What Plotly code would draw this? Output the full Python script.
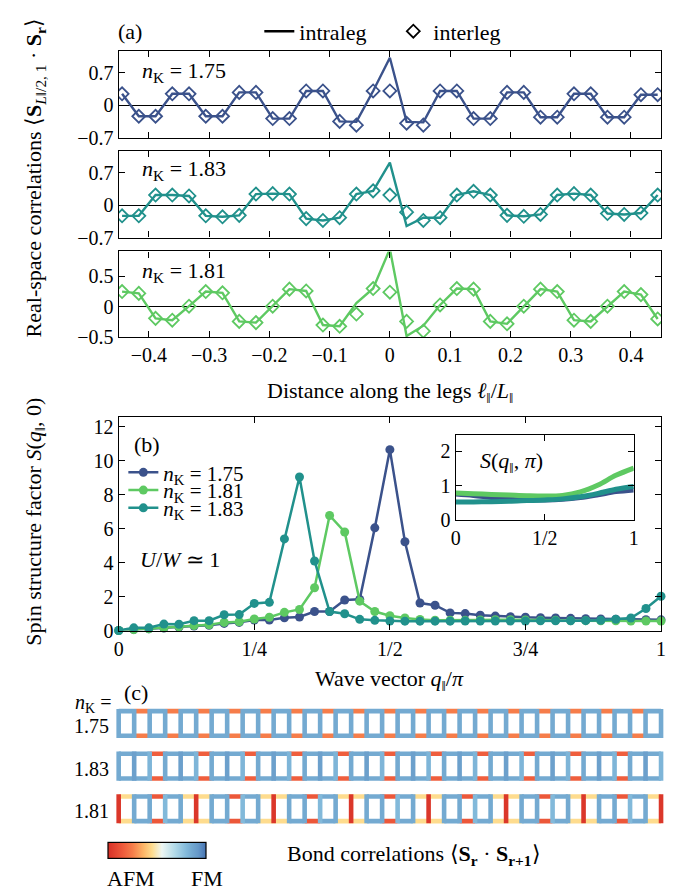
import plotly.graph_objects as go
from plotly.colors import sample_colorscale

W, H = 679, 892
SERIF = "Liberation Serif, Times New Roman, Times, serif"
TICK_FONT = dict(family=SERIF, size=20, color="black")


def fx(px):
    return px / W


def fy(py):
    return 1 - py / H


# ---------------- data: panel (a) real-space correlations ----------------
L_PAR = 36
site_offset = list(range(-16, 17))
dist_ticks = [-0.4, -0.3, -0.2, -0.1, 0, 0.1, 0.2, 0.3, 0.4]
dist_ticktext = ["\u22120.4", "\u22120.3", "\u22120.2", "\u22120.1", "0", "0.1", "0.2", "0.3", "0.4"]

intra_175 = [0.25, -0.23, -0.23, 0.25, 0.25, -0.23, -0.23, 0.28, 0.28, -0.28, -0.28, 0.31, 0.31,
             -0.34, -0.35, 0.31, 1.02, -0.35, -0.36, 0.31, 0.31, -0.28, -0.28, 0.28, 0.28, -0.25,
             -0.25, 0.25, 0.25, -0.25, -0.25, 0.23, 0.23]
inter_175 = [0.25, -0.23, -0.23, 0.25, 0.25, -0.23, -0.23, 0.28, 0.28, -0.28, -0.28, 0.31, 0.31,
             -0.34, -0.42, 0.31, 0.31, -0.38, -0.42, 0.31, 0.31, -0.28, -0.28, 0.28, 0.28, -0.25,
             -0.25, 0.25, 0.25, -0.25, -0.25, 0.23, 0.23]

intra_183 = [-0.23, -0.23, 0.22, 0.22, 0.20, -0.23, -0.25, -0.22, 0.24, 0.25, 0.24, -0.29, -0.33,
             -0.27, 0.24, 0.31, 0.92, -0.45, -0.27, -0.27, 0.22, 0.30, 0.22, -0.22, -0.24, -0.20,
             0.22, 0.25, 0.22, -0.18, -0.20, -0.17, 0.22]
inter_183 = [-0.23, -0.23, 0.22, 0.22, 0.20, -0.23, -0.25, -0.22, 0.24, 0.25, 0.24, -0.29, -0.33,
             -0.27, 0.24, 0.31, 0.22, -0.15, -0.33, -0.27, 0.22, 0.30, 0.22, -0.22, -0.24, -0.20,
             0.22, 0.25, 0.22, -0.18, -0.20, -0.17, 0.22]

intra_181 = [0.25, 0.22, -0.19, -0.22, 0.01, 0.25, 0.23, -0.24, -0.26, 0.01, 0.29, 0.26, -0.30,
             -0.32, 0.06, 0.30, 0.95, -0.48, -0.31, 0.03, 0.30, 0.29, -0.24, -0.28, 0.01, 0.29,
             0.25, -0.22, -0.24, 0.01, 0.25, 0.20, -0.20]
inter_181 = [0.25, 0.22, -0.19, -0.22, 0.01, 0.25, 0.23, -0.24, -0.26, 0.01, 0.29, 0.26, -0.30,
             -0.32, -0.12, 0.30, 0.24, -0.24, -0.40, 0.03, 0.30, 0.29, -0.24, -0.28, 0.01, 0.29,
             0.25, -0.22, -0.24, 0.01, 0.25, 0.20, -0.20]

# ---------------- data: panel (b) spin structure factor ----------------
q_index = list(range(37))
q_ticks = [0, 0.25, 0.5, 0.75, 1]
q_ticktext = ["0", "1/4", "1/2", "3/4", "1"]

sq_175 = [0.0, 0.06, 0.10, 0.15, 0.20, 0.26, 0.31, 0.42, 0.48, 0.62, 0.62, 0.75, 0.80, 1.12, 1.12,
          1.80, 1.84, 6.05, 10.66, 5.23, 1.62, 1.49, 1.04, 1.00, 0.90, 0.85, 0.81, 0.78, 0.76,
          0.74, 0.72, 0.70, 0.68, 0.67, 0.66, 0.64, 0.63]
sq_181 = [0.0, 0.05, 0.10, 0.16, 0.22, 0.29, 0.34, 0.48, 0.52, 0.68, 0.78, 1.07, 1.24, 2.52, 6.78,
          5.81, 1.73, 1.12, 0.87, 0.74, 0.65, 0.61, 0.60, 0.60, 0.62, 0.64, 0.64, 0.62, 0.60, 0.60,
          0.58, 0.58, 0.57, 0.57, 0.56, 0.56, 0.56]
sq_183 = [0.0, 0.16, 0.16, 0.38, 0.37, 0.58, 0.58, 0.93, 0.94, 1.60, 1.66, 5.40, 9.05, 4.10, 1.12,
          0.99, 0.66, 0.60, 0.56, 0.55, 0.55, 0.55, 0.55, 0.56, 0.56, 0.56, 0.56, 0.56, 0.57, 0.57,
          0.57, 0.58, 0.60, 0.66, 0.74, 1.30, 2.02]

# inset S(q, pi)
qi = [0, 0.1, 0.2, 0.3, 0.4, 0.5, 0.6, 0.7, 0.8, 0.9, 1.0]
spi_175 = [0.76, 0.72, 0.66, 0.61, 0.59, 0.59, 0.61, 0.66, 0.74, 0.83, 0.88]
spi_181 = [0.79, 0.77, 0.75, 0.73, 0.71, 0.70, 0.72, 0.82, 1.02, 1.30, 1.51]
spi_183 = [0.53, 0.53, 0.54, 0.55, 0.57, 0.59, 0.62, 0.68, 0.78, 0.90, 0.98]

# ---------------- data: panel (c) bond correlations ----------------
leg_175 = [0.28, -0.20, 0.28, -0.20, 0.28, -0.20, 0.28, -0.20, 0.28, -0.20, 0.28, -0.20, 0.28,
           -0.20, 0.28, -0.20, 0.28, -0.20, 0.28, -0.20, 0.28, -0.20, 0.28, -0.20, 0.28, -0.20,
           0.28, -0.20, 0.28, -0.20, 0.28, -0.20, 0.28, -0.20, 0.28]
rung_175 = [0.28, 0.28, 0.28, 0.28, 0.28, 0.28, 0.28, 0.28, 0.28, 0.28, 0.28, 0.28, 0.28, 0.28,
            0.28, 0.28, 0.28, 0.28, 0.28, 0.28, 0.28, 0.28, 0.28, 0.28, 0.28, 0.28, 0.28, 0.28,
            0.28, 0.28, 0.28, 0.28, 0.28, 0.28, 0.28, 0.28]
leg_183 = [0.28, 0.28, -0.27, 0.28, 0.28, -0.27, 0.28, 0.28, -0.27, 0.28, 0.28, -0.27, 0.28, 0.28,
           -0.27, 0.28, 0.28, -0.27, 0.28, 0.28, -0.27, 0.28, 0.28, -0.27, 0.28, 0.28, -0.27, 0.28,
           0.28, -0.27, 0.28, 0.28, -0.27, 0.28, 0.28]
rung_183 = [0.28, 0.31, 0.25, 0.28, 0.31, 0.25, 0.28, 0.31, 0.25, 0.28, 0.31, 0.25, 0.28, 0.31,
            0.25, 0.28, 0.31, 0.25, 0.28, 0.31, 0.25, 0.28, 0.31, 0.25, 0.28, 0.31, 0.25, 0.28,
            0.31, 0.25, 0.28, 0.31, 0.25, 0.28, 0.31, 0.25]
leg_181 = [-0.04, 0.28, -0.29, 0.28, -0.04, -0.04, 0.28, -0.29, 0.28, -0.04, -0.04, 0.28, -0.29,
           0.28, -0.04, -0.04, 0.28, -0.29, 0.28, -0.04, -0.04, 0.28, -0.29, 0.28, -0.04, -0.04,
           0.28, -0.29, 0.28, -0.04, -0.04, 0.28, -0.29, 0.28, -0.04]
rung_181 = [-0.38, 0.28, 0.28, 0.24, 0.28, -0.38, 0.28, 0.28, 0.24, 0.28, -0.38, 0.28, 0.28, 0.24,
            0.28, -0.38, 0.28, 0.28, 0.24, 0.28, -0.38, 0.28, 0.28, 0.24, 0.28, -0.38, 0.28, 0.28,
            0.24, 0.28, -0.38, 0.28, 0.28, 0.24, 0.28, -0.38]
ladder_labels = ["1.75", "1.83", "1.81"]

# ---------------- styles ----------------
C175, C181, C183 = "#3b528b", "#5ec962", "#21918c"
BOND_SCALE = [[0.0, "#d73027"], [0.15, "#ee5a3b"], [0.25, "#f67d4a"], [0.36, "#fdb466"],
              [0.45, "#fedc8e"], [0.55, "#eef7f3"], [0.68, "#b3dbe9"], [0.80, "#82b9da"],
              [0.85, "#74aad1"], [0.92, "#6598c8"], [1.0, "#4673b2"]]
CMIN, CMAX = -0.4, 0.4

fig = go.Figure()

ell = [k / L_PAR for k in site_offset]
for ax, intra, inter, col in [("", intra_175, inter_175, C175),
                              ("2", intra_183, inter_183, C183),
                              ("3", intra_181, inter_181, C181)]:
    fig.add_trace(go.Scatter(x=ell, y=intra, mode="lines", line=dict(color=col, width=2.4),
                             xaxis="x" + ax, yaxis="y" + ax, showlegend=False))
    fig.add_trace(go.Scatter(x=ell, y=inter, mode="markers",
                             marker=dict(symbol="diamond-open", size=10, color=col,
                                         line=dict(color=col, width=1.8)),
                             xaxis="x" + ax, yaxis="y" + ax, showlegend=False))

# legend entries for panel (a)
fig.add_trace(go.Scatter(x=[None], y=[None], mode="lines", line=dict(color="black", width=2.5),
                         name="intraleg", legend="legend", xaxis="x", yaxis="y"))
fig.add_trace(go.Scatter(x=[None], y=[None], mode="markers",
                         marker=dict(symbol="diamond-open", size=10, color="black",
                                     line=dict(color="black", width=1.8)),
                         name="interleg", legend="legend5", xaxis="x", yaxis="y"))

# panel (b)
q = [k / 36 for k in q_index]
for ys, col, lab, lg in [(sq_175, C175, "1.75", "legend2"),
                         (sq_181, C181, "1.81", "legend3"),
                         (sq_183, C183, "1.83", "legend4")]:
    fig.add_trace(go.Scatter(x=q, y=ys, mode="lines+markers",
                             line=dict(color=col, width=2.5), marker=dict(size=9, color=col),
                             name="<i>n</i><sub>K</sub> = " + lab, legend=lg,
                             xaxis="x4", yaxis="y4", cliponaxis=False))

# inset
for ys, col in [(spi_175, C175), (spi_181, C181), (spi_183, C183)]:
    fig.add_trace(go.Scatter(x=qi, y=ys, mode="lines", line=dict(color=col, width=5, shape="spline"),
                             xaxis="x5", yaxis="y5", showlegend=False))

# panel (c) ladders
ROW_STEP = 1.73
RUNG_EXT = 0.09


def bond_color(v):
    return sample_colorscale(BOND_SCALE, [(v - CMIN) / (CMAX - CMIN)])[0]


leg_groups, rung_groups = {}, {}
for r, (legs, rungs) in enumerate([(leg_175, rung_175), (leg_183, rung_183), (leg_181, rung_181)]):
    top = -r * ROW_STEP
    bot = top - 1
    for b, v in enumerate(legs):
        xs, ys = leg_groups.setdefault(bond_color(v), ([], []))
        for yy in (top, bot):
            xs += [b, b + 1, None]
            ys += [yy, yy, None]
    for j, v in enumerate(rungs):
        xs, ys = rung_groups.setdefault(bond_color(v), ([], []))
        xs += [j, j, None]
        ys += [bot - RUNG_EXT, top + RUNG_EXT, None]

for groups in (leg_groups, rung_groups):
    for c, (xs, ys) in groups.items():
        fig.add_trace(go.Scatter(x=xs, y=ys, mode="lines", line=dict(color=c, width=4.6),
                                 xaxis="x6", yaxis="y6", showlegend=False, hoverinfo="skip"))

# colorbar
fig.add_trace(go.Scatter(x=[None], y=[None], mode="markers", xaxis="x6", yaxis="y6", showlegend=False,
                         marker=dict(color=[0], colorscale=BOND_SCALE, cmin=CMIN, cmax=CMAX,
                                     showscale=True,
                                     colorbar=dict(orientation="h", x=fx(146.4), xanchor="center",
                                                   y=fy(853), yanchor="middle", len=98,
                                                   lenmode="pixels", thickness=16,
                                                   thicknessmode="pixels", outlinewidth=1.2,
                                                   outlinecolor="black", showticklabels=False,
                                                   ticks="", xpad=0, ypad=0))))

# ---------------- axes ----------------
base = dict(showline=True, linecolor="black", linewidth=1.3, mirror="ticks", ticks="inside",
            ticklen=6, tickwidth=1.2, tickcolor="black", showgrid=False, zeroline=False,
            tickfont=TICK_FONT)
XA = [fx(107.3), fx(657.7)]

layout_axes = dict(
    xaxis=dict(base, domain=XA, range=[-0.45, 0.45], tickvals=dist_ticks, showticklabels=False, anchor="y"),
    yaxis=dict(base, domain=[fy(131), fy(42.3)], range=[-0.7, 1.17], tickvals=[-0.7, 0, 0.7],
               ticktext=["\u22120.7", "0", "0.7"], zeroline=True, zerolinecolor="black",
               zerolinewidth=1, anchor="x"),
    xaxis2=dict(base, domain=XA, range=[-0.45, 0.45], tickvals=dist_ticks, showticklabels=False, anchor="y2"),
    yaxis2=dict(base, domain=[fy(231.7), fy(144)], range=[-0.7, 1.17], tickvals=[-0.7, 0, 0.7],
                ticktext=["\u22120.7", "0", "0.7"], zeroline=True, zerolinecolor="black",
                zerolinewidth=1, anchor="x2"),
    xaxis3=dict(base, domain=XA, range=[-0.45, 0.45], tickvals=dist_ticks, ticktext=dist_ticktext,
                anchor="y3"),
    yaxis3=dict(base, domain=[fy(332.7), fy(245.7)], range=[-0.5, 0.91], tickvals=[-0.5, 0, 0.5],
                ticktext=["\u22120.5", "0", "0.5"], zeroline=True, zerolinecolor="black",
                zerolinewidth=1, anchor="x3"),
    xaxis4=dict(base, domain=XA, range=[0, 1], tickvals=q_ticks, ticktext=q_ticktext, anchor="y4"),
    yaxis4=dict(base, domain=[fy(630), fy(413.3)], range=[0, 12.6], tickvals=[0, 2, 4, 6, 8, 10, 12],
                anchor="x4"),
    xaxis5=dict(base, domain=[fx(449.3), fx(630)], range=[0, 1], tickvals=[0, 0.5, 1],
                ticktext=["0", "1/2", "1"], anchor="y5"),
    yaxis5=dict(base, domain=[fy(518.3), fy(431.7)], range=[0, 2.47], tickvals=[0, 1, 2], anchor="x5"),
    xaxis6=dict(domain=[fx(99.4), fx(665.6)], range=[-0.5, 35.5], visible=False, anchor="y6"),
    yaxis6=dict(domain=[fy(835), fy(700)], range=[0.468 - 5.4, 0.468], visible=False, anchor="x6"),
)


# ---------------- annotations ----------------
def ann(text, x, y, size=22, xanchor="center", yanchor="middle", angle=0, yref="paper"):
    return dict(text=text, x=fx(x), y=(fy(y) if yref == "paper" else y), xref="paper", yref=yref,
                showarrow=False, xanchor=xanchor, yanchor=yanchor, textangle=angle,
                font=dict(family=SERIF, size=size, color="black"))


annotations = [
    ann("(a)", 119, 22.7),
    ann("<i>n</i><sub>K</sub> = 1.75", 129, 64, xanchor="left"),
    ann("<i>n</i><sub>K</sub> = 1.83", 129, 163, xanchor="left"),
    ann("<i>n</i><sub>K</sub> = 1.81", 129, 267, xanchor="left"),
    ann("Distance along the legs <i>\u2113</i><sub>\u2016</sub>/<i>L</i><sub>\u2016</sub>", 382.5, 388),
    ann("Real-space correlations \u27e8<b>S</b><sub><i>L</i>\u2016/2, 1</sub> \u00b7 <b>S</b><sub><b>r</b></sub>\u27e9",
        22, 171, angle=-90),
    ann("(b)", 136, 441),
    ann("<i>U</i>/<i>W</i> \u2243 1", 169, 558),
    ann("Spin structure factor <i>S</i>(<i>q</i><sub>\u2016</sub>, 0)", 22, 520, angle=-90),
    ann("Wave vector <i>q</i><sub>\u2016</sub>/<i>\u03c0</i>", 382.5, 680),
    ann("<i>S</i>(<i>q</i><sub>\u2016</sub>, <i>\u03c0</i>)", 506, 459),
    ann("(c)", 124.5, 693),
    ann("<i>n</i><sub>K</sub> =", 101, 704, size=20, xanchor="right"),
    ann("AFM", 120, 881),
    ann("FM", 197, 881),
    ann("Bond correlations \u27e8<b>S</b><sub><b>r</b></sub> \u00b7 <b>S</b><sub><b>r+1</b></sub>\u27e9", 406.6, 858),
]
for r, lab in enumerate(ladder_labels):
    annotations.append(ann(lab, 99, -r * ROW_STEP - 0.6, size=20, xanchor="right", yref="y6"))


def legend_at(x, y, orientation="v", size=21):
    return dict(x=fx(x), y=fy(y), xanchor="left", yanchor="middle", orientation=orientation,
                bgcolor="rgba(0,0,0,0)", borderwidth=0, font=dict(family=SERIF, size=size, color="black"),
                itemwidth=30, tracegroupgap=0)


fig.update_layout(
    width=W, height=H, autosize=False, margin=dict(l=0, r=0, t=0, b=0),
    paper_bgcolor="white", plot_bgcolor="white",
    font=dict(family=SERIF, size=20, color="black"),
    annotations=annotations,
    legend=legend_at(250, 22.7, size=22),
    legend5=legend_at(386, 22.7, size=22),
    legend2=legend_at(112, 470),
    legend3=legend_at(112, 488),
    legend4=legend_at(112, 506),
    **layout_axes,
)

fig.write_html("out.html")
